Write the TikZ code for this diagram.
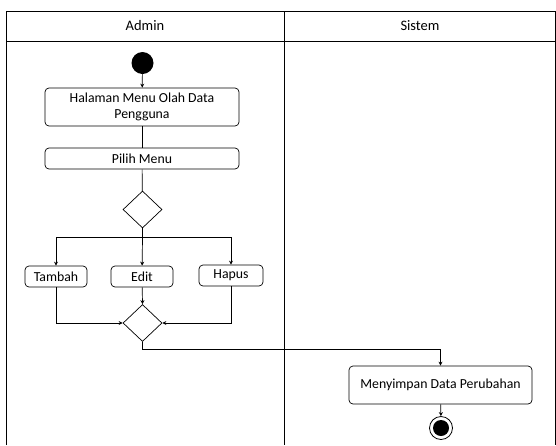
\documentclass[tikz,border=0pt]{standalone}
\usepackage{fontspec}
\setmainfont{Carlito}
\usetikzlibrary{arrows.meta,shapes.geometric}
\begin{document}
\begin{tikzpicture}[x=1pt,y=-1pt,
  act/.style={draw,rounded corners=4pt,line width=0.7pt,align=center,font=\fontsize{13.8}{16}\selectfont,inner sep=0pt},
  dec/.style={draw,diamond,line width=0.7pt,minimum width=39pt,minimum height=37pt,inner sep=0pt},
  flow/.style={line width=0.7pt,-{Stealth[length=4pt,width=4pt]}},
  plain/.style={line width=0.7pt},
  lane/.style={line width=0.8pt},
  hdr/.style={font=\fontsize{14.5}{16}\selectfont}]
\useasboundingbox (0,0) rectangle (556,445);
% swimlanes
\draw[lane] (6,445) -- (6,11) -- (555,11) -- (555,445);
\draw[lane] (6,41) -- (555,41);
\draw[lane] (284,11) -- (284,445);
\node[hdr] (hA) at (145,26) {Admin};
\node[hdr] (hS) at (420,26) {Sistem};
% nodes
\node[circle,fill=black,minimum size=22pt,inner sep=0pt] (start) at (142.5,63) {};
\node[act,minimum width=194pt,minimum height=38pt] (halaman) at (142,107) {Halaman Menu Olah Data\\Pengguna};
\node[act,minimum width=194pt,minimum height=21pt] (pilih) at (142,158.5) {Pilih Menu};
\node[dec] (d1) at (142.5,209.5) {};
\node[act,minimum width=62pt,minimum height=21pt] (tambah) at (56,276.5) {Tambah};
\node[act,minimum width=62pt,minimum height=21pt] (edit) at (142,276.5) {Edit};
\node[act,minimum width=64pt,minimum height=21pt] (hapus) at (231,275.5) {Hapus};
\node[dec] (d2) at (142.5,323) {};
\node[act,minimum width=183pt,minimum height=38pt] (simpan) at (440.5,385) {Menyimpan Data Perubahan};
\node[circle,draw,line width=0.8pt,minimum size=23pt,inner sep=0pt] (end) at (441,428) {};
\node[circle,fill=black,minimum size=16pt,inner sep=0pt] (endin) at (441,428) {};
% connectors
\coordinate (s1) at (56,237);
\coordinate (s2) at (142.5,237);
\coordinate (s3) at (231,237);
\coordinate (m1) at (56,323);
\coordinate (m3) at (231,323);
\coordinate (j1) at (142.5,349);
\coordinate (j2) at (440.5,349);
\draw[flow] (start) -- (halaman);
\draw[plain] (halaman) -- (pilih);
\draw[plain] (pilih) -- (d1);
\draw[plain] (d1.south) -- (s2);
\draw[plain] (s1) -- (s3);
\draw[flow] (s1) -- (tambah);
\draw[flow] (s2) -- (edit);
\draw[flow] (s3) -- (hapus);
\draw[flow] (tambah) |- (d2.west);
\draw[flow] (edit) -- (d2.north);
\draw[flow] (hapus) |- (d2.east);
\draw[plain] (d2.south) -- (j1) -- (j2);
\draw[flow] (j2) -- (simpan);
\draw[flow] (simpan) -- (end);
\end{tikzpicture}
\end{document}
